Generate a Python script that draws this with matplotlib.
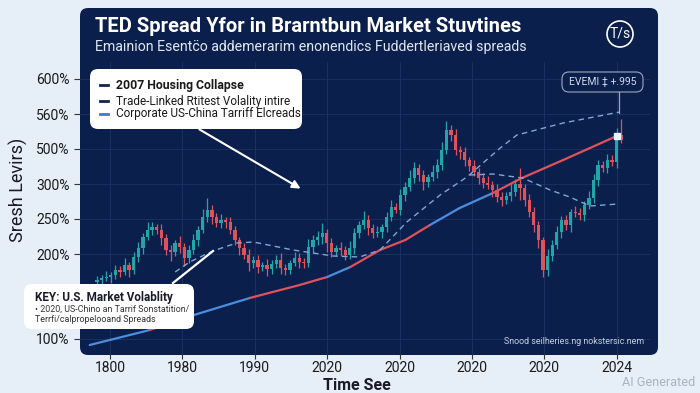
import numpy as np
import matplotlib
matplotlib.use("Agg")
import matplotlib.pyplot as plt
from matplotlib.patches import FancyBboxPatch, Circle, FancyArrowPatch
from matplotlib.collections import LineCollection

plt.rcParams['font.family'] = ['Roboto', 'DejaVu Sans']

# ---- data ----
xtick_labels = ['1800', '1980', '1990', '2020', '2020', '2020', '2020', '2024']
ytick_pos = [115, 200, 235, 270, 305, 340, 375]
ytick_labels = ['100%', '200%', '250%', '300%', '500%', '560%', '600%']

first_open = 172
closes = [174, 176, 177, 179, 184, 182, 189, 184, 197, 206,
          217, 224, 227, 224, 216, 204, 202, 211, 207, 196,
          204, 214, 224, 237, 244, 237, 231, 234, 232, 224,
          214, 206, 199, 191, 194, 187, 189, 185, 190, 194,
          186, 184, 191, 196, 192, 191, 207, 214, 217, 221,
          211, 202, 206, 204, 199, 206, 221, 229, 234, 226,
          221, 222, 227, 237, 247, 244, 259, 267, 276, 286,
          279, 272, 277, 282, 289, 304, 324, 319, 304, 302,
          294, 288, 282, 276, 271, 269, 264, 257, 254, 258,
          262, 270, 266, 254, 242, 229, 214, 184, 198, 209,
          222, 234, 229, 242, 241, 239, 249, 256, 274, 289,
          286, 294, 292, 319, 314]
wick_up = [4, 3, 6, 3, 5, 4, 7, 3, 5, 6,
           4, 8, 5, 3, 6, 4, 5, 3, 7, 4,
           5, 6, 4, 8, 12, 5, 4, 6, 3, 5,
           4, 3, 5, 6, 4, 5, 3, 6, 4, 5,
           7, 4, 3, 6, 5, 4, 8, 5, 6, 10,
           4, 5, 3, 6, 4, 7, 5, 4, 9, 5,
           4, 6, 3, 5, 7, 4, 6, 5, 8, 6,
           4, 5, 3, 7, 6, 8, 9, 5, 6, 4,
           5, 3, 6, 4, 5, 7, 4, 6, 5, 4,
           8, 5, 16, 4, 6, 5, 4, 3, 7, 5,
           6, 4, 5, 3, 6, 5, 4, 7, 6, 5,
           4, 6, 5, 7, 16]
wick_dn = [5, 4, 3, 6, 4, 5, 3, 7, 4, 5,
           6, 3, 5, 4, 7, 5, 9, 4, 6, 8,
           5, 4, 6, 3, 5, 7, 4, 5, 6, 4,
           5, 7, 4, 8, 5, 6, 4, 7, 5, 4,
           6, 5, 4, 3, 6, 5, 4, 6, 5, 7,
           9, 5, 4, 6, 5, 4, 6, 5, 4, 7,
           5, 4, 6, 5, 4, 3, 5, 6, 4, 5,
           6, 8, 5, 4, 6, 5, 4, 6, 5, 7,
           6, 5, 4, 6, 5, 4, 7, 5, 6, 4,
           5, 4, 12, 6, 5, 7, 8, 7, 6, 5,
           4, 6, 5, 7, 4, 5, 6, 4, 5, 6,
           4, 5, 4, 6, 3]

trend_t = [-0.28, 0.55, 1.16, 1.93, 2.62, 3.00, 3.32, 3.73, 4.08, 4.42, 4.83, 5.29, 5.69, 6.26, 7.00]
trend_v = [109, 124, 139, 156, 169, 177, 187, 204, 214, 229, 246, 261, 276, 294, 318]
trend_seg = ['b', 'r', 'b', 'r', 'r', 'b', 'r', 'r', 'r', 'b', 'b', 'r', 'r', 'r']

dashA_t = [0.90, 1.10, 1.42, 1.75, 1.98, 2.53, 3.08, 3.45, 3.73, 4.10, 4.56, 4.93, 5.39, 5.62, 6.26, 7.04]
dashA_v = [182, 192, 203, 211, 212, 204, 198, 197, 204, 232, 259, 277, 306, 319, 331, 342]
dashB_t = [4.97, 5.29, 5.70, 6.08, 6.35, 6.63, 7.02]
dashB_v = [279, 280, 276, 264, 257, 248, 250]

# ---- style ----
BG = '#e6eef8'
PANEL = '#0b1f4d'
TEAL = '#22a5a8'
RED = '#e0525a'
BLUE = '#4a8ee0'
GRID = '#1a3366'

W, H = 700, 393


def fx(x):
    return x / W


def fy(y):
    return 1 - y / H


fig = plt.figure(figsize=(7.0, 3.93), dpi=100, facecolor=BG)

panel = FancyBboxPatch((0.80, 0.38), 5.78, 3.47, boxstyle='round,pad=0,rounding_size=0.08',
                       transform=fig.dpi_scale_trans, facecolor=PANEL, edgecolor='none', zorder=-5)
fig.patches.append(panel)

ax = fig.add_axes([fx(80), 1 - 353 / H, (650 - 80) / W, (353 - 62) / H])
ax.set_facecolor('none')
for s in ax.spines.values():
    s.set_visible(False)
ax.set_xlim(-0.414, 7.459)
ax.set_ylim(101, 392)

ax.set_xticks(range(len(xtick_labels)))
ax.set_xticklabels(xtick_labels)
ax.set_yticks(ytick_pos)
ax.set_yticklabels(ytick_labels)
ax.tick_params(axis='both', colors='#333333', labelcolor='#1a1a1a', labelsize=10, length=4, width=0.8)
ax.tick_params(axis='x', pad=2)
ax.grid(True, color=GRID, lw=0.6)
ax.set_axisbelow(True)

# candles
n = len(closes)
ct = np.linspace(-0.18, 7.06, n)
opens = [first_open] + closes[:-1]
for i in range(n):
    o, c = opens[i], closes[i]
    col = TEAL if c >= o else RED
    top, bot = max(o, c), min(o, c)
    ax.vlines(ct[i], bot - wick_dn[i], top + wick_up[i], color=col, lw=0.9, zorder=3)
    ax.bar(ct[i], max(top - bot, 1.5), bottom=bot, width=0.045, color=col, zorder=3)

# trend line
pts = np.column_stack([trend_t, trend_v])
segs = [pts[i:i + 2] for i in range(len(pts) - 1)]
cols = [BLUE if s == 'b' else RED for s in trend_seg]
ax.add_collection(LineCollection(segs, colors=cols, linewidths=1.6, zorder=4, capstyle='round'))
ax.plot(trend_t[-1], trend_v[-1], 's', color='#e8f4ff', ms=5, zorder=5)

ax.plot(dashA_t, dashA_v, color='#7ea6d6', lw=1.0, ls=(0, (4, 3)), zorder=4)
ax.plot(dashB_t, dashB_v, color='#7ea6d6', lw=1.0, ls=(0, (4, 3)), zorder=4)

# titles
fig.text(fx(95), fy(27), 'TED Spread Yfor in Brarntbun Market Stuvtines', color='white',
         fontsize=14.5, fontweight='bold', va='center', ha='left')
fig.text(fx(95), fy(47), 'Emainion Esentc̈o addemerarim enonendics Fuddertleriaved spreads',
         color='#dfe7f3', fontsize=10.2, va='center', ha='left')
fig.patches.append(Circle((6.20, 3.93 - 0.34), 0.13, transform=fig.dpi_scale_trans,
                          facecolor='none', edgecolor='white', lw=1.2))
fig.text(fx(620), fy(34), 'T/s', color='white', fontsize=10, ha='center', va='center')

fig.text(fx(18), fy(190), 'Sresh Levirs)', rotation=90, fontsize=13, color='#1a1a2a',
         ha='center', va='center')
fig.text(fx(357), fy(385), 'Time See', fontsize=11.5, fontweight='bold', color='#1a1a2a',
         ha='center', va='center')

# legend box
fig.patches.append(FancyBboxPatch((0.90, 2.64), 2.12, 0.60, boxstyle='round,pad=0,rounding_size=0.08',
                                  transform=fig.dpi_scale_trans, facecolor='white', edgecolor='none', zorder=6))
legend_items = [('2007 Housing Collapse', '#14244f', 'bold', 8.8),
                ('Trade-Linked Rtitest Volality intire', '#14244f', 'normal', 8.5),
                ('Corporate US-China Tarriff Elcreads', '#3a7bd5', 'normal', 8.5)]
for (lab, lc, fw, fs), yy in zip(legend_items, [85, 101, 114]):
    fig.lines.append(plt.Line2D([fx(100), fx(108)], [fy(yy), fy(yy)], color=lc, lw=2,
                                transform=fig.transFigure, zorder=7))
    fig.text(fx(116), fy(yy), lab, fontsize=fs, fontweight=fw, color='#1a1a1a', va='center', zorder=7)

fig.patches.append(FancyArrowPatch((fx(197), fy(128)), (fx(303), fy(190)),
                                   transform=fig.transFigure, arrowstyle='-|>',
                                   mutation_scale=12, color='white', lw=1.5, zorder=6))

# event box
fig.patches.append(FancyBboxPatch((5.62, 3.93 - 0.92), 0.81, 0.20, boxstyle='round,pad=0,rounding_size=0.07',
                                  transform=fig.dpi_scale_trans, facecolor=PANEL, edgecolor='#9aa8bf',
                                  lw=0.8, zorder=6))
fig.text(fx(603), fy(82), 'EVEMI ‡ +.995', fontsize=7.5, color='#d0d8e6', ha='center', va='center', zorder=7)
fig.lines.append(plt.Line2D([fx(619), fx(619)], [fy(92), fy(113)], color='#9aa8bf', lw=0.9,
                            transform=fig.transFigure, zorder=6))

# key box
fig.lines.append(plt.Line2D([fx(173), fx(213)], [fy(283), fy(251)], color='white', lw=1.6,
                            transform=fig.transFigure, zorder=6))
fig.patches.append(FancyBboxPatch((0.24, 0.64), 1.70, 0.45, boxstyle='round,pad=0,rounding_size=0.08',
                                  transform=fig.dpi_scale_trans, facecolor='white', edgecolor='none', zorder=6))
fig.text(fx(35), fy(297), 'KEY: U.S. Market Volablity', fontsize=8.4, fontweight='bold',
         color='#1a1a2a', va='center', zorder=7)
fig.text(fx(35), fy(309), '• 2020, US-Chino an Tarrif Sonstatition/', fontsize=6.4, color='#333333',
         va='center', zorder=7)
fig.text(fx(35), fy(319), 'Terrfi/calpropelooand Spreads', fontsize=6.4, color='#333333',
         va='center', zorder=7)

fig.text(fx(644), fy(342), 'Snood seilheries.ng nokstersic.nem', fontsize=6.4, color='#c5cfdf',
         ha='right', va='center')
fig.text(fx(695), fy(383), 'AI Generated', fontsize=9.2, color='#a9b3c2', ha='right', va='center')

fig.savefig('out.png', dpi=100, facecolor=BG)
